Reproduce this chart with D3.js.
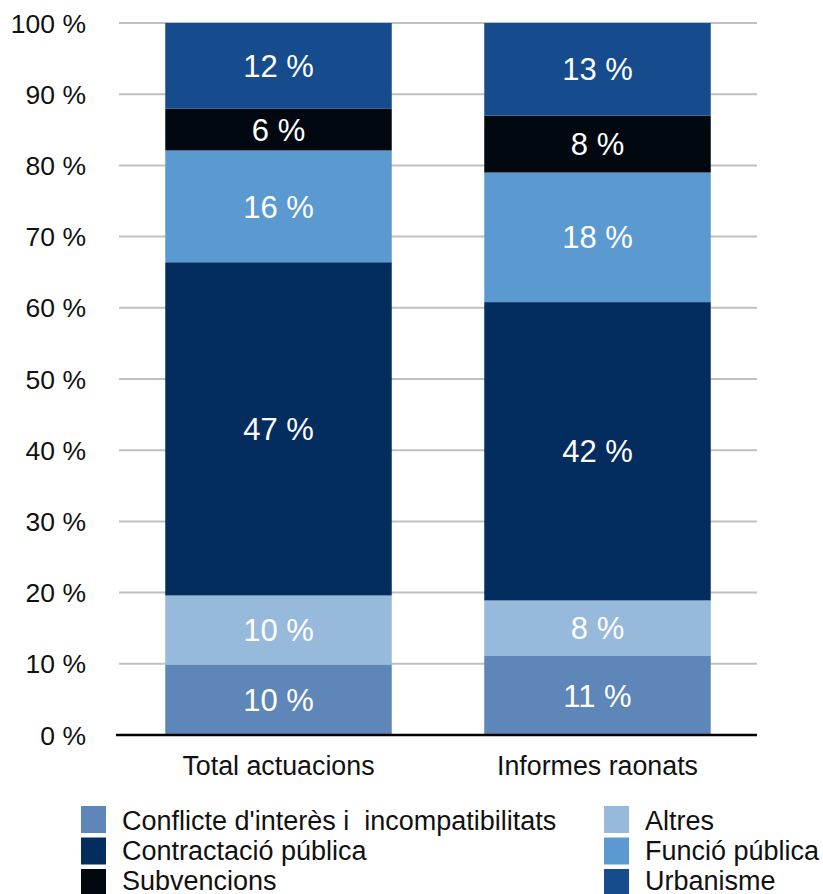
<!DOCTYPE html>
<html>
<head>
<meta charset="utf-8">
<script src="https://cdn.jsdelivr.net/npm/d3@7/dist/d3.min.js"></script>
<style>
  html, body { margin: 0; padding: 0; background: #fff; }
  svg { display: block; font-family: "Liberation Sans", Arial, Helvetica, sans-serif; }
</style>
</head>
<body>
<svg id="chart" width="823" height="894"></svg>
<script>
// ---- data ----
const categories = ["Total actuacions", "Informes raonats"];
const seriesNames = ["Conflicte d'interès i  incompatibilitats", "Altres", "Contractació pública", "Funció pública", "Subvencions", "Urbanisme"];
const conflicte    = [9.9, 11.1];
const altres       = [9.7, 7.8];
const contractacio = [46.8, 41.9];
const funcio       = [15.7, 18.2];
const subvencions  = [5.9, 8.0];
const urbanisme    = [12.0, 13.0];
const yTicks = [0, 10, 20, 30, 40, 50, 60, 70, 80, 90, 100];
const colors = ["#5e86b8", "#97b9db", "#032c5f", "#5b9ad0", "#020810", "#164b8d"];
// legend order (two columns)
const legendLeft = ["Conflicte d'interès i  incompatibilitats", "Contractació pública", "Subvencions"];
const legendRight = ["Altres", "Funció pública", "Urbanisme"];

const values = [conflicte, altres, contractacio, funcio, subvencions, urbanisme];
const table = categories.map((c, i) => {
  const row = { category: c };
  seriesNames.forEach((s, j) => row[s] = values[j][i]);
  return row;
});

const svg = d3.select("#chart");
const x = d3.scaleBand().domain(categories).range([119, 757]).paddingInner(0.29).paddingOuter(0.145);
const y = d3.scaleLinear().domain([0, 100]).range([735, 23]);
const color = d3.scaleOrdinal().domain(seriesNames).range(colors);

// gridlines
svg.append("g").selectAll("line").data(yTicks.filter(d => d > 0)).join("line")
  .attr("x1", 119).attr("x2", 757)
  .attr("y1", d => y(d)).attr("y2", d => y(d))
  .attr("stroke", "#c0c0c0").attr("stroke-width", 2);

// y tick labels
svg.append("g").selectAll("text").data(yTicks).join("text")
  .attr("x", 86).attr("y", d => y(d)).attr("dy", "0.36em")
  .attr("text-anchor", "end").attr("font-size", 26.5).attr("fill", "#111")
  .text(d => d + " %");

// stacked bars
const stack = d3.stack().keys(seriesNames);
const stacked = stack(table);
const layers = svg.append("g").selectAll("g").data(stacked).join("g")
  .attr("fill", d => color(d.key));
layers.selectAll("rect").data(d => d).join("rect")
  .attr("x", d => x(d.data.category))
  .attr("width", x.bandwidth())
  .attr("y", d => y(d[1]))
  .attr("height", d => y(d[0]) - y(d[1]));

// labels in segments
const lbl = svg.append("g");
stacked.forEach(layer => {
  layer.forEach(d => {
    lbl.append("text")
      .attr("x", x(d.data.category) + x.bandwidth() / 2)
      .attr("y", y((d[0] + d[1]) / 2))
      .attr("dy", "0.36em")
      .attr("text-anchor", "middle")
      .attr("font-size", 31)
      .attr("fill", "#fff")
      .text(Math.round(d[1] - d[0]) + " %");
  });
});

// baseline axis
svg.append("line").attr("x1", 116).attr("x2", 757).attr("y1", y(0)).attr("y2", y(0))
  .attr("stroke", "#000").attr("stroke-width", 2.5);

// category labels
svg.append("g").selectAll("text").data(categories).join("text")
  .attr("x", d => x(d) + x.bandwidth() / 2).attr("y", 775)
  .attr("text-anchor", "middle").attr("font-size", 26.8).attr("fill", "#111")
  .text(d => d);

// legend
function legendCol(items, xs, xt) {
  const g = svg.append("g");
  items.forEach((name, i) => {
    const yy = 806 + i * 31.5;
    g.append("rect").attr("x", xs).attr("y", yy).attr("width", 25).attr("height", 27).attr("fill", color(name));
    g.append("text").attr("x", xt).attr("y", 829.5 + i * 30)
      .attr("font-size", 27).attr("fill", "#111").style("white-space", "pre").text(name);
  });
}
legendCol(legendLeft, 81, 122);
legendCol(legendRight, 604, 645);
</script>
</body>
</html>
